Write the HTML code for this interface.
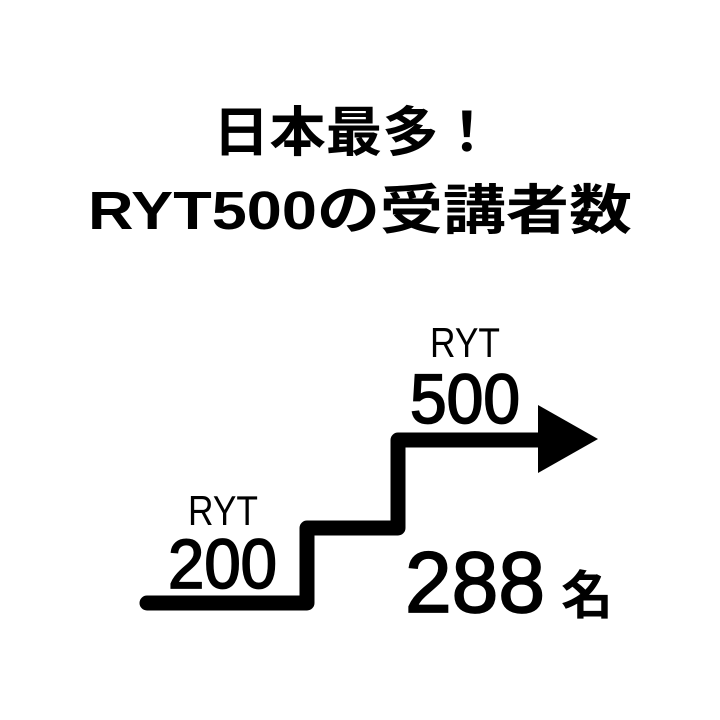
<!DOCTYPE html>
<html><head><meta charset="utf-8"><style>
html,body{margin:0;padding:0;background:#fff;}
svg{display:block}
text{font-family:"Liberation Sans","Noto Sans CJK JP",sans-serif;fill:#000}
.m{stroke:#000;stroke-width:1.8}
</style></head><body>
<svg width="720" height="720" viewBox="0 0 720 720">
<text x="213" y="151" font-size="54" font-weight="bold" textLength="282" lengthAdjust="spacingAndGlyphs">日本最多！</text>
<text x="88" y="229" font-size="54" font-weight="bold" textLength="544" lengthAdjust="spacingAndGlyphs">RYT500の受講者数</text>
<polyline points="147,603 307,603 307,528 398,528 398,440 545,440" fill="none" stroke="#000" stroke-width="15" stroke-linejoin="round" stroke-linecap="round"/>
<polygon points="538,405 598,439 538,473" fill="#000"/>
<text x="188" y="525" font-size="42" textLength="70" lengthAdjust="spacingAndGlyphs">RYT</text>
<text class="m" x="168" y="588" font-size="70" textLength="109" lengthAdjust="spacingAndGlyphs">200</text>
<text x="430" y="357" font-size="42" textLength="70" lengthAdjust="spacingAndGlyphs">RYT</text>
<text class="m" x="410" y="423" font-size="70" textLength="110" lengthAdjust="spacingAndGlyphs">500</text>
<text class="m" x="405" y="612" font-size="86" textLength="140" lengthAdjust="spacingAndGlyphs">288</text>
<text x="561" y="614" font-size="52" font-weight="bold">名</text>
</svg>
</body></html>
